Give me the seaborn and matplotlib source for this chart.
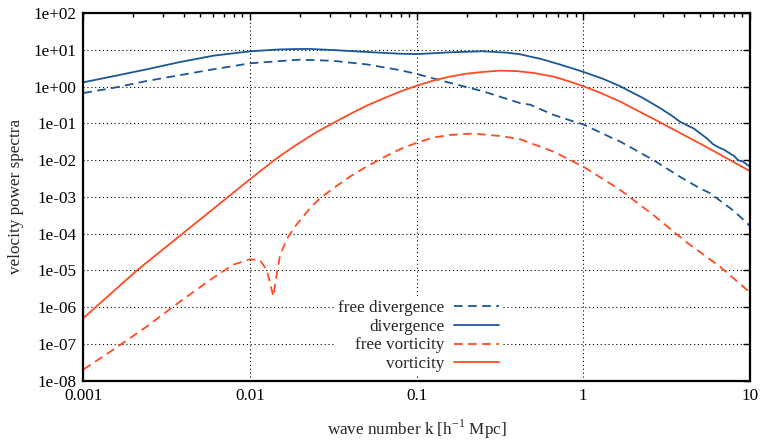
import numpy as np
import pandas as pd
import seaborn as sns
import matplotlib.pyplot as plt
from matplotlib.ticker import FixedLocator, FuncFormatter, LogLocator, NullFormatter

# wave number k [h^-1 Mpc] and velocity power spectra
k_div = [0.001, 0.0015, 0.0024, 0.0038, 0.006, 0.01, 0.015, 0.02, 0.023, 0.0316,
         0.05, 0.079, 0.1, 0.158, 0.25, 0.35, 0.42, 0.48, 0.55, 0.72, 1.0, 1.32,
         1.66, 2.29, 2.88, 3.4, 3.8, 4.2, 4.6, 5.0, 5.5, 6.0, 6.5, 7.0, 7.5, 8.0,
         8.5, 9.0, 9.5, 10.0]
p_div = [1.30, 1.89, 2.93, 4.63, 6.87, 9.06, 10.2, 10.5, 10.5, 9.8,
         8.7, 7.8, 7.6, 8.5, 9.1, 8.3, 7.5, 6.5, 5.7, 4.0, 2.5, 1.6,
         1.02, 0.48, 0.26, 0.16, 0.11, 0.088, 0.072, 0.054, 0.039, 0.027, 0.022, 0.019, 0.0155, 0.013,
         0.0098, 0.0092, 0.0078, 0.0066]

k_free_div = [0.001, 0.0015, 0.0024, 0.0038, 0.006, 0.01, 0.015, 0.02, 0.023, 0.0316,
              0.05, 0.079, 0.1, 0.158, 0.25, 0.42, 0.48, 0.66, 0.91, 1.0, 1.5, 1.66,
              2.63, 3.8, 5.0, 5.75, 6.9, 7.9, 8.7, 10.0]
p_free_div = [0.665, 0.91, 1.41, 2.04, 2.93, 4.27, 4.9, 5.37, 5.25, 5.0,
              4.0, 2.8, 2.2, 1.26, 0.74, 0.35, 0.32, 0.17, 0.105, 0.093, 0.039, 0.032,
              0.01, 0.0035, 0.0017, 0.00126, 0.00068, 0.00043, 0.00029, 0.00016]

k_vort = [0.001, 0.0021, 0.01, 0.014, 0.0178, 0.021, 0.0251, 0.0316, 0.0398, 0.05,
          0.063, 0.079, 0.1, 0.126, 0.158, 0.2, 0.251, 0.316, 0.398, 0.5, 0.66,
          0.794, 1.0, 1.26, 1.66, 2.63, 4.37, 5.25, 7.24, 10.0]
p_vort = [5.0e-7, 1.0e-5, 3.0e-3, 1.0e-2, 0.0214, 0.0347, 0.0575, 0.102, 0.178, 0.30,
          0.47, 0.72, 1.05, 1.45, 1.86, 2.24, 2.5, 2.7, 2.63, 2.34, 1.86,
          1.45, 1.02, 0.68, 0.39, 0.132, 0.039, 0.0251, 0.0112, 0.005]

k_free_vort = [0.001, 0.00151, 0.0024, 0.0038, 0.006, 0.0079, 0.01, 0.0115, 0.0126,
               0.0132, 0.0138, 0.0145, 0.0151, 0.0166, 0.019, 0.02, 0.023, 0.0263,
               0.0316, 0.0398, 0.05, 0.063, 0.079, 0.1, 0.126, 0.158, 0.22, 0.316,
               0.417, 0.66, 1.0, 1.66, 2.63, 4.17, 6.6, 10.0]
p_free_vort = [2.0e-8, 6.9e-8, 2.95e-7, 1.41e-6, 6.2e-6, 1.41e-5, 2.0e-5, 1.86e-5, 1.02e-5,
               4.5e-6, 1.95e-6, 8.3e-6, 2.4e-5, 7.1e-5, 1.74e-4, 2.3e-4, 5.0e-4, 9.1e-4,
               1.7e-3, 3.55e-3, 6.6e-3, 0.0117, 0.0195, 0.0295, 0.041, 0.048, 0.0525, 0.045,
               0.037, 0.017, 0.0066, 1.55e-3, 3.2e-4, 5.75e-5, 1.26e-5, 2.5e-6]

x_ticks = [0.001, 0.01, 0.1, 1, 10]
x_tick_labels = ["0.001", "0.01", "0.1", "1", "10"]
y_ticks = [10.0 ** e for e in range(-8, 3)]

BLUE = "#1b5797"
RED = "#ff4b22"
FS = 12.3


def main():
    sns.set_theme(style="white")
    plt.rcParams["font.family"] = ["Liberation Serif", "DejaVu Serif"]
    plt.rcParams["mathtext.fontset"] = "custom"
    plt.rcParams["mathtext.rm"] = "Liberation Serif"

    fig = plt.figure(figsize=(7.63, 4.40), dpi=100)
    ax = fig.add_axes([0.1092, 0.135, 0.8738, 0.8355])

    series = [
        ("free divergence", k_free_div, p_free_div, BLUE, (0, (4.8, 3))),
        ("divergence", k_div, p_div, BLUE, "-"),
        ("free vorticity", k_free_vort, p_free_vort, RED, (0, (4.8, 3))),
        ("vorticity", k_vort, p_vort, RED, "-"),
    ]
    for name, k, p, color, ls in series:
        df = pd.DataFrame({"k": k, "p": p})
        sns.lineplot(data=df, x="k", y="p", ax=ax, color=color, linestyle=ls,
                     linewidth=1.3, label=name, estimator=None, sort=True)

    ax.set_xscale("log")
    ax.set_yscale("log")
    ax.set_xlim(0.001, 10)
    ax.set_ylim(1e-8, 1e2)

    ax.xaxis.set_major_locator(FixedLocator(x_ticks))
    ax.xaxis.set_major_formatter(FuncFormatter(lambda v, pos: x_tick_labels[x_ticks.index(v)] if v in x_ticks else ""))
    ax.xaxis.set_minor_locator(LogLocator(base=10, subs=np.arange(2, 10)))
    ax.xaxis.set_minor_formatter(NullFormatter())
    ax.yaxis.set_major_locator(FixedLocator(y_ticks))
    ax.yaxis.set_major_formatter(FuncFormatter(lambda v, pos: f"{v:.0e}"))
    ax.yaxis.set_minor_locator(FixedLocator([]))

    ax.tick_params(axis="both", which="both", direction="in", top=True, right=True,
                   colors="black", labelsize=FS)
    ax.tick_params(axis="both", which="major", length=5, width=1.0)
    ax.tick_params(axis="both", which="minor", length=3, width=1.0)
    ax.tick_params(axis="x", which="major", pad=5)
    ax.tick_params(axis="y", which="major", pad=5)

    ax.grid(True, which="major", color="black", linestyle=(0, (1, 2.5)), linewidth=0.8)
    ax.set_axisbelow(True)
    for sp in ax.spines.values():
        sp.set_color("black")
        sp.set_linewidth(1.6)

    ax.set_xlabel(r"wave number k [h$^{-1}$ Mpc]", fontsize=FS, labelpad=10)
    ax.set_ylabel("velocity power spectra", fontsize=FS, labelpad=7)

    # white key box without a border, as in the reference
    leg = ax.legend(loc="lower right", bbox_to_anchor=(0.636, 0.0), frameon=True,
                    facecolor="white", edgecolor="none", framealpha=1.0, fancybox=False,
                    markerfirst=False, fontsize=FS, handlelength=2.6,
                    labelspacing=0.15, handletextpad=0.6, borderaxespad=0.25,
                    borderpad=0.25)

    fig.savefig("out.png", dpi=100)


if __name__ == "__main__":
    main()
